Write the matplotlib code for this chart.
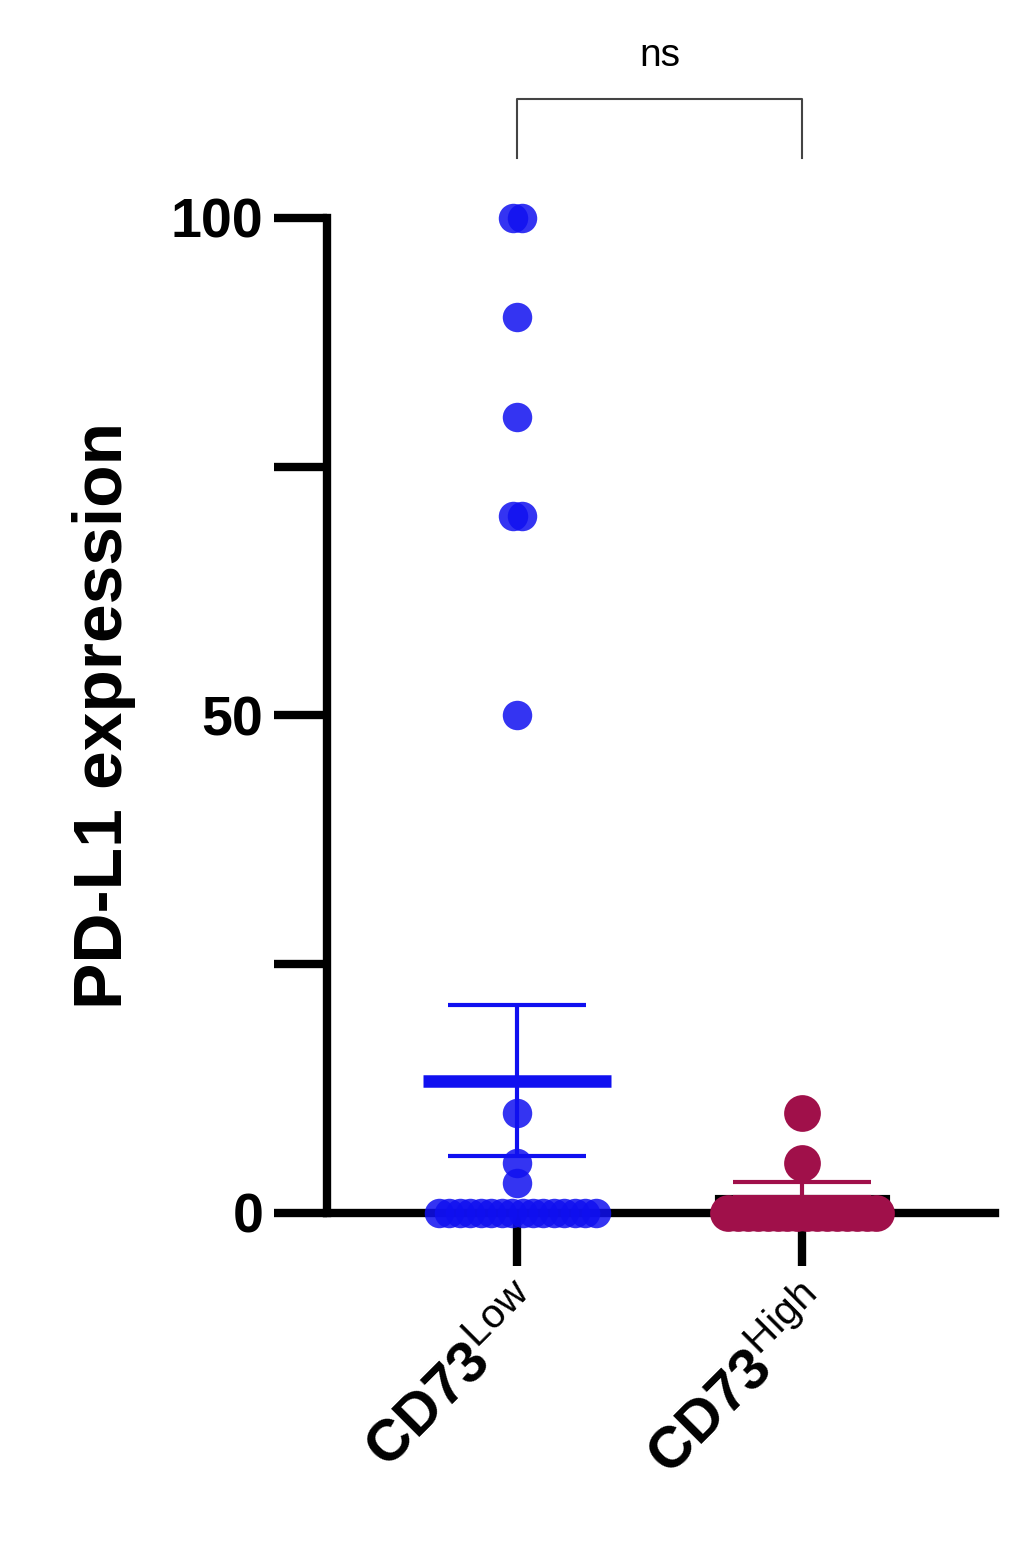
import numpy as np
import matplotlib.pyplot as plt

plt.rcParams['font.family'] = ['Liberation Sans', 'DejaVu Sans']
plt.rcParams['mathtext.fontset'] = 'custom'
plt.rcParams['mathtext.rm'] = 'Liberation Sans'
plt.rcParams['mathtext.bf'] = 'Liberation Sans:bold'

# data
groups = ['Low', 'High']
low_vals = [100, 100, 90, 80, 70, 70, 50, 10, 5, 3] + [0] * 16
high_vals = [10, 5] + [0] * 16
low_mean, low_sd = 13.3, 7.6
high_mean, high_sem = 1.6, 1.5

blue = '#1010f0'
red = '#a0104a'

fig = plt.figure(figsize=(10.26, 15.46), dpi=100)
ax = fig.add_axes([0.319, 0.2154, 0.651, 0.6436])
ax.set_xlim(-0.667, 1.677)
ax.set_ylim(0, 100)


def spread(vals, width_zero, width_other=0.03):
    # place repeated values side by side like a swarm
    vals = np.array(vals, float)
    xs = np.zeros(len(vals))
    for v in np.unique(vals):
        idx = np.where(vals == v)[0]
        n = len(idx)
        if n > 1:
            w = width_zero if v == 0 else width_other
            xs[idx] = np.linspace(-w / 2, w / 2, n)
    return xs


# CD73 high: bar + sem
ax.bar(1, high_mean, width=0.6, color='white', edgecolor='black', lw=3, zorder=2)
ax.errorbar(1, high_mean, yerr=[[0], [high_sem]], color=red, lw=3, capsize=50,
            capthick=3, zorder=3)
ax.scatter(1 + spread(high_vals, 0.52), high_vals, s=700, color=red, zorder=4,
           clip_on=False, lw=0)

# CD73 low: mean line + sd
ax.errorbar(0, low_mean, yerr=low_sd, color=blue, lw=3, capsize=50, capthick=3, zorder=3)
ax.hlines(low_mean, -0.33, 0.33, color=blue, lw=9, zorder=3)
ax.scatter(0 + spread(low_vals, 0.55), low_vals, s=450, color=blue, alpha=0.85,
           zorder=4, clip_on=False, lw=0)

for s in ['top', 'right']:
    ax.spines[s].set_visible(False)
ax.spines['left'].set_linewidth(6)
ax.spines['bottom'].set_linewidth(6)
ax.set_yticks([0, 50, 100])
ax.set_yticks([25, 75], minor=True)
ax.set_yticklabels(['0', '50', '100'], fontsize=40, fontweight='bold')
ax.tick_params(axis='y', which='both', length=38, width=6, pad=8)
ax.set_xticks([0, 1])
ax.set_xticklabels([r'$\mathbf{CD73}^{\mathrm{%s}}$' % g for g in groups],
                   fontsize=42, rotation=45, ha='right', rotation_mode='anchor')
ax.tick_params(axis='x', length=38, width=6, pad=10)
ax.set_ylabel('PD-L1 expression', fontsize=50, fontweight='bold', labelpad=25)

# significance bracket
ax.plot([0, 0, 1, 1], [106, 112, 112, 106], color='#444444', lw=1.5, clip_on=False)
ax.text(0.5, 114.5, 'ns', ha='center', va='bottom', fontsize=28, clip_on=False)

fig.savefig('out.png', dpi=100)
